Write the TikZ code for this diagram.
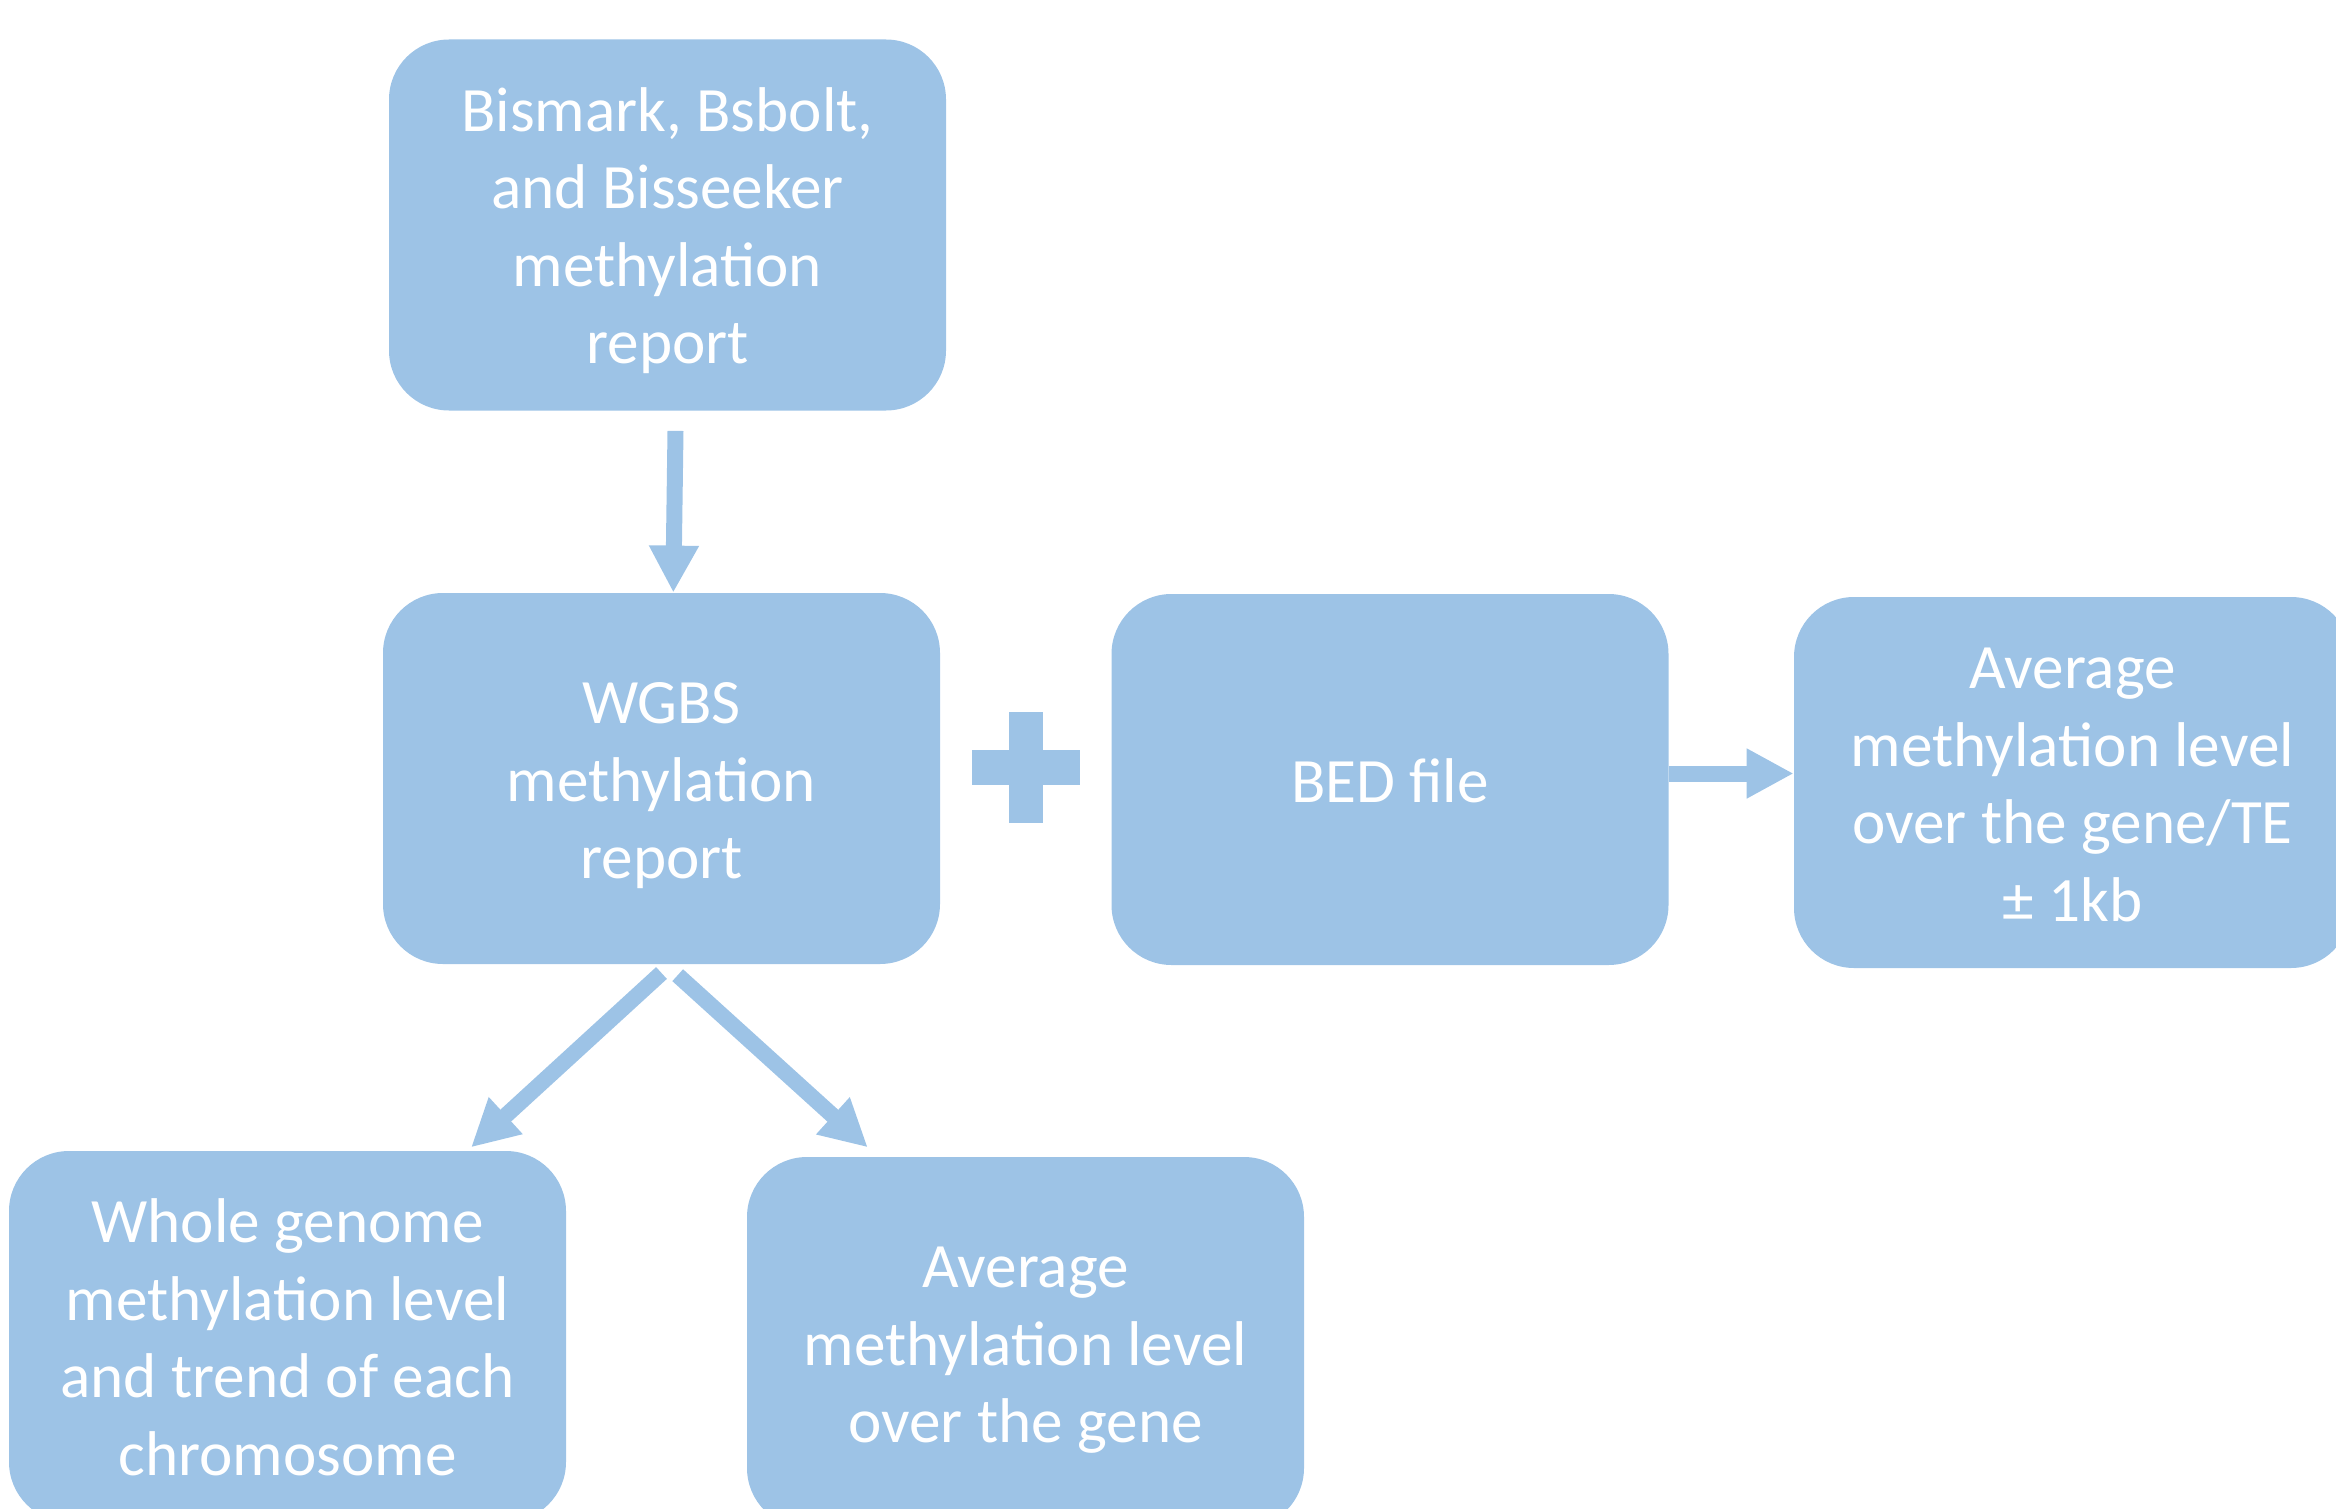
\documentclass[tikz,border=0pt]{standalone}
\usepackage{fontspec}
\setmainfont{Carlito}
\usetikzlibrary{arrows.meta}
\definecolor{boxblue}{HTML}{9DC3E6}
\newcommand\topstrut{\rule{0pt}{30.5pt}}
\newcommand\botstrut{\rule[-8pt]{0pt}{8pt}}
\begin{document}
\begin{tikzpicture}[x=0.5pt,y=-0.5pt,
  box/.style={fill=boxblue, rounded corners=30pt, minimum width=278.5pt, minimum height=185.5pt,
    inner sep=0pt, align=center, text=white, font=\fontsize{31.6}{38.7}\selectfont},
  blockarrow/.style={draw=boxblue, line width=8pt, -{Triangle[width=23.5pt,length=23.5pt]}}]
\useasboundingbox (0,0) rectangle (2336,1509);
\clip (0,0) rectangle (2336,1509);
\node[box] (src) at (667.5,225) {\topstrut Bismark, Bsbolt,\\and Bisseeker\\methylation\\report\botstrut};
\node[box] (wgbs) at (661.5,778.5) {\topstrut WGBS\\methylation\\report\botstrut};
\node[box] (bed) at (1390,779.5) {\topstrut BED file\botstrut};
\node[box] (avg) at (2072.5,782.5) {\topstrut Average\\methylation level\\over the gene/TE\\± 1kb\botstrut};
\node[box] (whole) at (287.5,1336.5) {\topstrut Whole genome\\methylation level\\and trend of each\\chromosome\botstrut};
\node[box] (gene) at (1025.5,1342.5) {\topstrut Average\\methylation level\\over the gene\botstrut};
% plus sign
\fill[boxblue] (1009,712) rectangle (1043,823);
\fill[boxblue] (972,750) rectangle (1080,785);
% arrows
\draw[blockarrow] ([xshift=4pt,yshift=-10pt]src.south) -- ([xshift=5.9pt]wgbs.north);
\draw[blockarrow] ([yshift=3pt]bed.east) -- ([yshift=4.5pt]avg.west);
\draw[blockarrow] ([yshift=-4.3pt]wgbs.south) -- ([xshift=91.8pt,yshift=1.65pt]whole.north);
\draw[blockarrow] ([xshift=8.1pt,yshift=-5.4pt]wgbs.south) -- ([xshift=-78.9pt,yshift=4.65pt]gene.north);
\end{tikzpicture}
\end{document}
